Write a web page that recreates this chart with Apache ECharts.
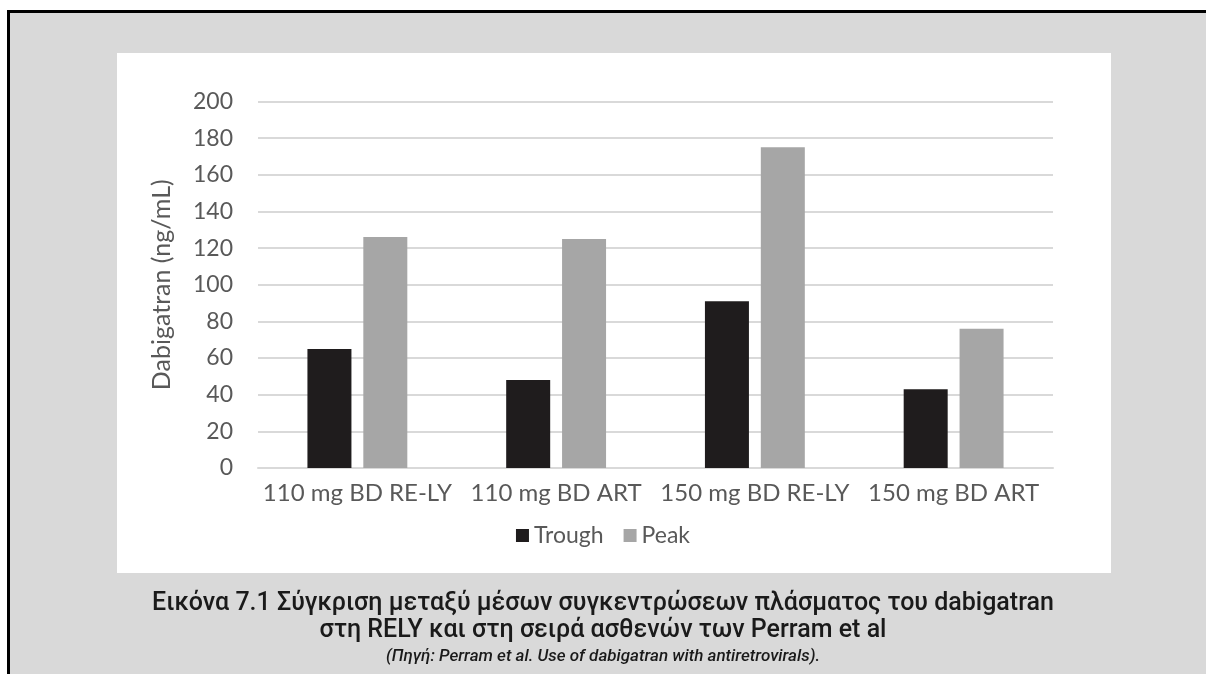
<!DOCTYPE html>
<html>
<head>
<meta charset="utf-8">
<script src="https://cdn.jsdelivr.net/npm/echarts@6/dist/echarts.min.js"></script>
<style>
html,body{margin:0;padding:0;background:#ffffff;}
#chart{width:1206px;height:674px;}
</style>
</head>
<body>
<div id="chart"></div>
<script>
const categories = ['110 mg BD RE-LY', '110 mg BD ART', '150 mg BD RE-LY', '150 mg BD ART'];
const troughValues = [65, 48, 91, 43];
const peakValues = [126, 125, 175, 76];
const seriesNames = ['Trough', 'Peak'];
const yAxisTitle = 'Dabigatran (ng/mL)';
const captionLine1 = 'Εικόνα 7.1 Σύγκριση μεταξύ μέσων συγκεντρώσεων πλάσματος του dabigatran';
const captionLine2 = 'στη RELY και στη σειρά ασθενών των Perram et al';
const captionLine3 = '(Πηγή: Perram et al. Use of dabigatran with antiretrovirals).';

const chart = echarts.init(document.getElementById('chart'), null, {renderer: 'canvas'});
const axisFont = 'Lato, "Open Sans", sans-serif';
const capFont = 'Roboto, "Noto Sans", sans-serif';

chart.setOption({
  animation: false,
  backgroundColor: '#ffffff',
  graphic: [
    {type: 'rect', z: -10, silent: true,
     shape: {x: 8.5, y: 11.5, width: 1210, height: 700},
     style: {fill: '#d9d9d9', stroke: '#000000', lineWidth: 3}},
    {type: 'rect', z: -9, silent: true,
     shape: {x: 117, y: 53, width: 994, height: 520},
     style: {fill: '#ffffff'}}
  ],
  title: [
    {text: captionLine1, left: 'center', top: 586,
     textStyle: {fontFamily: capFont, fontSize: 25, fontWeight: 500, color: '#1a1a1a'}},
    {text: captionLine2, left: 'center', top: 613,
     textStyle: {fontFamily: capFont, fontSize: 25, fontWeight: 500, color: '#1a1a1a'}},
    {text: captionLine3, left: 'center', top: 643,
     textStyle: {fontFamily: capFont, fontSize: 17, fontWeight: 500, fontStyle: 'italic', color: '#1a1a1a'}}
  ],
  legend: {
    data: seriesNames,
    left: 'center',
    top: 519,
    itemWidth: 13,
    itemHeight: 13,
    itemGap: 20,
    icon: 'rect',
    textStyle: {fontFamily: axisFont, fontSize: 23, color: '#595959'}
  },
  grid: {left: 258, right: 153, top: 101.5, bottom: 206, containLabel: false},
  xAxis: {
    type: 'category',
    data: categories,
    axisLine: {lineStyle: {color: '#d9d9d9', width: 2}},
    axisTick: {show: false},
    axisLabel: {fontFamily: axisFont, fontSize: 24, color: '#595959', margin: 13, interval: 0}
  },
  yAxis: {
    type: 'value',
    min: 0, max: 200, interval: 20,
    name: yAxisTitle,
    nameLocation: 'middle',
    nameGap: 84,
    nameTextStyle: {fontFamily: axisFont, fontSize: 25, color: '#595959'},
    axisLine: {show: false},
    axisTick: {show: false},
    axisLabel: {fontFamily: axisFont, fontSize: 23, color: '#595959', margin: 25},
    splitLine: {lineStyle: {color: '#d9d9d9', width: 2}}
  },
  series: [
    {name: seriesNames[0], type: 'bar', data: troughValues, barWidth: 44, barGap: '27%',
     itemStyle: {color: '#1f1c1d'}},
    {name: seriesNames[1], type: 'bar', data: peakValues, barWidth: 44,
     itemStyle: {color: '#a6a6a6'}}
  ]
});
</script>
</body>
</html>
